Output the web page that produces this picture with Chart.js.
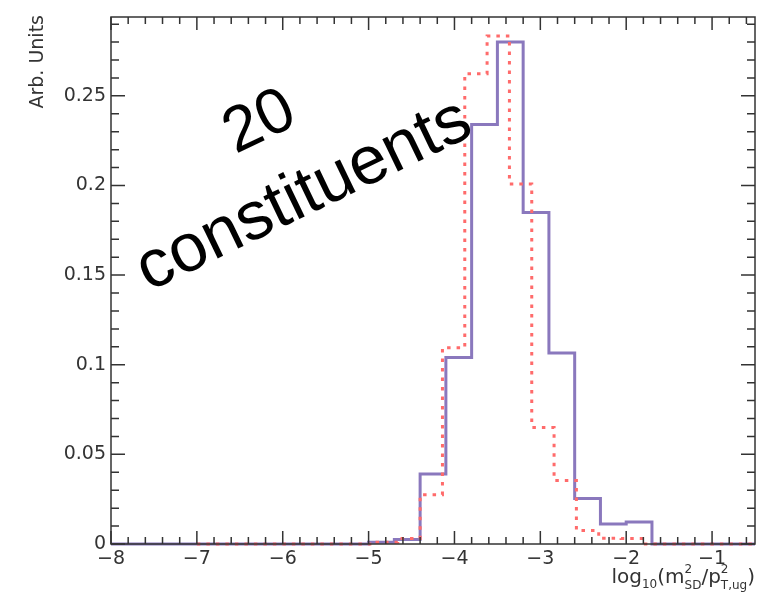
<!DOCTYPE html>
<html>
<head>
<meta charset="utf-8">
<script src="https://cdn.jsdelivr.net/npm/chart.js@4.4.0/dist/chart.umd.min.js"></script>
<style>
  body{margin:0;background:#fff;}
  canvas{display:block;}
</style>
</head>
<body>
<canvas id="histChart" width="766" height="595"></canvas>
<script>
// solid purple histogram: 25 bins from -8 to -0.5
var purpleEdges = [-8,-7.7,-7.4,-7.1,-6.8,-6.5,-6.2,-5.9,-5.6,-5.3,-5.0,-4.7,-4.4,-4.1,-3.8,-3.5,-3.2,-2.9,-2.6,-2.3,-2.0,-1.7,-1.4,-1.1,-0.8,-0.5];
var purpleValues = [0,0,0,0,0,0,0,0,0,0,0.001,0.0025,0.039,0.104,0.234,0.280,0.185,0.1065,0.0254,0.0112,0.0123,0,0,0,0];
// dashed red histogram: 25 bins from -7 to -0.5
var redEdges = [-7,-6.74,-6.48,-6.22,-5.96,-5.70,-5.44,-5.18,-4.92,-4.66,-4.40,-4.14,-3.88,-3.62,-3.36,-3.10,-2.84,-2.58,-2.32,-2.06,-1.80,-1.54,-1.28,-1.02,-0.76,-0.5];
var redValues = [0,0,0,0,0,0,0,0,0.001,0.003,0.0275,0.1095,0.2624,0.2834,0.2008,0.065,0.0354,0.0076,0.0032,0.003,0,0,0,0,0];
var xTicks = [-8,-7,-6,-5,-4,-3,-2,-1];
var yTicks = [0,0.05,0.1,0.15,0.2,0.25];

var labelFont = 'DejaVu Sans';

function steps(edges, values){
  var pts = [];
  for (var i = 0; i < values.length; i++) pts.push({x: edges[i], y: values[i]});
  pts.push({x: edges[edges.length-1], y: values[values.length-1]});
  return pts;
}

function drawRich(ctx, pieces, right, base){
  var total = 0;
  pieces.forEach(function(p){
    ctx.font = p.s + 'px "' + labelFont + '"';
    if (p.t) p.w = ctx.measureText(p.t).width;
    else p.w = Math.max(ctx.measureText(p.sup).width, ctx.measureText(p.sub).width);
    total += p.w;
  });
  var x = right - total;
  ctx.textAlign = 'left';
  ctx.textBaseline = 'alphabetic';
  pieces.forEach(function(p){
    ctx.font = p.s + 'px "' + labelFont + '"';
    if (p.t) ctx.fillText(p.t, x, base + (p.dy || 0));
    else {
      ctx.fillText(p.sup, x, base - 10);
      ctx.fillText(p.sub, x, base + 6);
    }
    x += p.w;
  });
}

var rootFrame = {
  id: 'rootFrame',
  afterDraw: function(chart){
    var ctx = chart.ctx, a = chart.chartArea;
    var xs = chart.scales.x, ys = chart.scales.y;
    ctx.save();
    ctx.strokeStyle = '#333';
    ctx.lineWidth = 1.5;
    ctx.strokeRect(a.left, a.top, a.right - a.left, a.bottom - a.top);
    ctx.beginPath();
    // x axis ticks, bottom and top, pointing inwards
    for (var i = -40; i <= -3; i++){
      var px = xs.getPixelForValue(i * 0.2);
      var len = (i % 5 === 0) ? 13 : 7;
      ctx.moveTo(px, a.bottom); ctx.lineTo(px, a.bottom - len);
      ctx.moveTo(px, a.top); ctx.lineTo(px, a.top + len);
    }
    // y axis ticks, left and right
    for (var j = 0; j <= 29; j++){
      var py = ys.getPixelForValue(j * 0.01);
      var l2 = (j % 5 === 0) ? 14 : 8;
      ctx.moveTo(a.left, py); ctx.lineTo(a.left + l2, py);
      ctx.moveTo(a.right, py); ctx.lineTo(a.right - l2, py);
    }
    ctx.stroke();

    ctx.fillStyle = '#333';
    // y title
    ctx.save();
    ctx.translate(43, 15);
    ctx.rotate(-Math.PI / 2);
    ctx.font = '19px "' + labelFont + '"';
    ctx.textAlign = 'right';
    ctx.textBaseline = 'alphabetic';
    ctx.fillText('Arb. Units', 0, 0);
    ctx.restore();

    // x title
    drawRich(ctx, [
      {t: 'log', s: 20},
      {t: '10', s: 12, dy: 5},
      {t: '(', s: 20},
      {t: 'm', s: 20},
      {sup: '2', sub: 'SD', s: 12},
      {t: '/', s: 20},
      {t: 'p', s: 20},
      {sup: '2', sub: 'T,ug', s: 12},
      {t: ')', s: 20}
    ], 755, 583);

    // annotation
    ctx.save();
    ctx.fillStyle = '#000';
    ctx.translate(304, 196);
    ctx.rotate(-0.45);
    ctx.textAlign = 'center';
    ctx.textBaseline = 'middle';
    ctx.font = '68px "Liberation Sans"';
    ctx.fillText('constituents', 0, 0);
    ctx.font = '64px "Liberation Sans"';
    ctx.fillText('20', -8, -85);
    ctx.restore();
    ctx.restore();
  }
};

new Chart('histChart', {
  type: 'line',
  data: {
    datasets: [{
      label: 'red',
      data: steps(redEdges, redValues),
      borderColor: '#ff6b6b',
      borderWidth: 3,
      borderDash: [3.5, 6],
      stepped: true,
      pointRadius: 0,
      fill: false,
      clip: false,
      order: 0
    },
    {
      label: 'purple',
      data: steps(purpleEdges, purpleValues),
      borderColor: '#8a78bd',
      borderWidth: 3,
      stepped: true,
      pointRadius: 0,
      fill: false,
      clip: false,
      order: 1
    }]
  },
  options: {
    responsive: false,
    animation: false,
    layout: {padding: {left: 0, right: 11, top: 17, bottom: 0}},
    plugins: {legend: {display: false}, tooltip: {enabled: false}},
    scales: {
      x: {
        type: 'linear',
        min: -8,
        max: -0.5,
        afterBuildTicks: function(s){ s.ticks = xTicks.map(function(v){ return {value: v}; }); },
        afterFit: function(s){ s.height = 51; },
        grid: {display: false, drawTicks: false},
        border: {display: false},
        ticks: {
          autoSkip: false,
          maxRotation: 0,
          padding: 4,
          color: '#333',
          font: {family: labelFont, size: 19},
          callback: function(v){ return v < 0 ? '\u2212' + Math.abs(v) : String(v); }
        }
      },
      y: {
        type: 'linear',
        min: 0,
        max: 0.294,
        afterBuildTicks: function(s){ s.ticks = yTicks.map(function(v){ return {value: v}; }); },
        afterFit: function(s){ s.width = 111; },
        grid: {display: false, drawTicks: false},
        border: {display: false},
        ticks: {
          padding: 5,
          color: '#333',
          font: {family: labelFont, size: 19},
          callback: function(v){ return String(v); }
        }
      }
    }
  },
  plugins: [rootFrame]
});
</script>
</body>
</html>
